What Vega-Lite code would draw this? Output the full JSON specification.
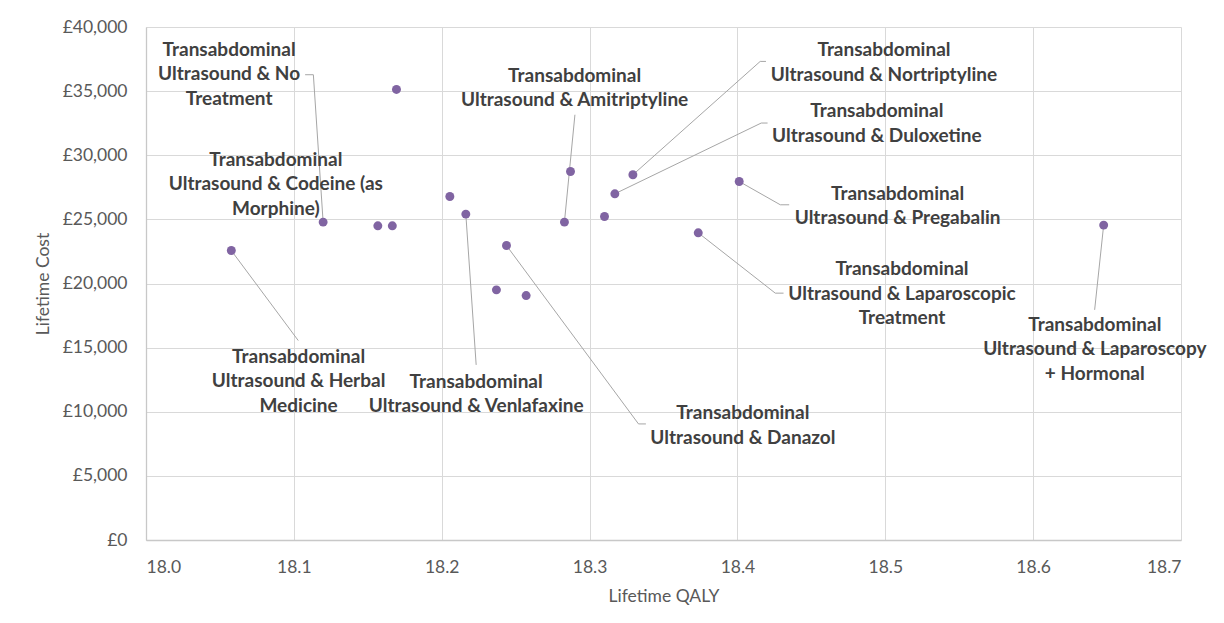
{
  "$schema": "https://vega.github.io/schema/vega-lite/v6.json",
  "autosize": {"type": "none"},
  "padding": {"left": 146, "top": 27, "right": 43, "bottom": 83},
  "width": 1035,
  "height": 513,
  "background": "white",
  "config": {"view": {"stroke": null}, "font": "Lato"},
  "datasets": {
    "points": [
      {"qaly": 18.1694, "cost": 35132},
      {"qaly": 18.1198, "cost": 24787},
      {"qaly": 18.1568, "cost": 24498},
      {"qaly": 18.1666, "cost": 24498},
      {"qaly": 18.0577, "cost": 22571},
      {"qaly": 18.2055, "cost": 26784},
      {"qaly": 18.2163, "cost": 25411},
      {"qaly": 18.2438, "cost": 22961},
      {"qaly": 18.2370, "cost": 19505},
      {"qaly": 18.2571, "cost": 19060},
      {"qaly": 18.2871, "cost": 28735},
      {"qaly": 18.2830, "cost": 24787},
      {"qaly": 18.3101, "cost": 25224},
      {"qaly": 18.3171, "cost": 26995},
      {"qaly": 18.3293, "cost": 28477},
      {"qaly": 18.4012, "cost": 27955},
      {"qaly": 18.3735, "cost": 23952},
      {"qaly": 18.6477, "cost": 24553}
    ],
    "labels": [
      {"qaly": 18.0562, "cost": 38230, "label": "Transabdominal\nUltrasound & No\nTreatment"},
      {"qaly": 18.0878, "cost": 29648, "label": "Transabdominal\nUltrasound & Codeine (as\nMorphine)"},
      {"qaly": 18.2899, "cost": 36201, "label": "Transabdominal\nUltrasound & Amitriptyline"},
      {"qaly": 18.4991, "cost": 38175, "label": "Transabdominal\nUltrasound & Nortriptyline"},
      {"qaly": 18.4943, "cost": 33416, "label": "Transabdominal\nUltrasound & Duloxetine"},
      {"qaly": 18.5083, "cost": 26995, "label": "Transabdominal\nUltrasound & Pregabalin"},
      {"qaly": 18.5113, "cost": 21120, "label": "Transabdominal\nUltrasound & Laparoscopic\nTreatment"},
      {"qaly": 18.6417, "cost": 16774, "label": "Transabdominal\nUltrasound & Laparoscopy\n+ Hormonal"},
      {"qaly": 18.1032, "cost": 14301, "label": "Transabdominal\nUltrasound & Herbal\nMedicine"},
      {"qaly": 18.2233, "cost": 12351, "label": "Transabdominal\nUltrasound & Venlafaxine"},
      {"qaly": 18.4037, "cost": 9885, "label": "Transabdominal\nUltrasound & Danazol"}
    ],
    "leaders": [
      {"id": "a", "k": 1, "qaly": 18.1076, "cost": 36279},
      {"id": "a", "k": 2, "qaly": 18.1132, "cost": 36279},
      {"id": "a", "k": 3, "qaly": 18.1198, "cost": 24787},
      {"id": "b", "k": 1, "qaly": 18.2901, "cost": 33159},
      {"id": "b", "k": 2, "qaly": 18.2830, "cost": 24787},
      {"id": "c", "k": 1, "qaly": 18.4193, "cost": 37317},
      {"id": "c", "k": 2, "qaly": 18.4154, "cost": 37317},
      {"id": "c", "k": 3, "qaly": 18.3293, "cost": 28477},
      {"id": "d", "k": 1, "qaly": 18.4204, "cost": 32511},
      {"id": "d", "k": 2, "qaly": 18.4161, "cost": 32511},
      {"id": "d", "k": 3, "qaly": 18.3171, "cost": 26995},
      {"id": "e", "k": 1, "qaly": 18.4012, "cost": 27955},
      {"id": "e", "k": 2, "qaly": 18.4290, "cost": 26137},
      {"id": "e", "k": 3, "qaly": 18.4350, "cost": 26137},
      {"id": "f", "k": 1, "qaly": 18.3735, "cost": 23952},
      {"id": "f", "k": 2, "qaly": 18.4256, "cost": 19248},
      {"id": "f", "k": 3, "qaly": 18.4312, "cost": 19248},
      {"id": "g", "k": 1, "qaly": 18.6477, "cost": 24553},
      {"id": "g", "k": 2, "qaly": 18.6416, "cost": 17945},
      {"id": "h", "k": 1, "qaly": 18.0577, "cost": 22571},
      {"id": "h", "k": 2, "qaly": 18.1030, "cost": 15549},
      {"id": "i", "k": 1, "qaly": 18.2163, "cost": 25411},
      {"id": "i", "k": 2, "qaly": 18.2233, "cost": 13654},
      {"id": "j", "k": 1, "qaly": 18.2438, "cost": 22961},
      {"id": "j", "k": 2, "qaly": 18.3331, "cost": 9050},
      {"id": "j", "k": 3, "qaly": 18.3381, "cost": 9050}
    ]
  },
  "encoding": {
    "x": {
      "field": "qaly", "type": "quantitative",
      "scale": {"domain": [18, 18.7], "nice": false, "zero": false},
      "axis": {
        "title": "Lifetime QALY",
        "values": [18, 18.1, 18.2, 18.3, 18.4, 18.5, 18.6, 18.7],
        "format": ".1f",
        "grid": true, "gridColor": "#d9d9d9", "gridWidth": 1,
        "domainColor": "#c8c8c8", "domainWidth": 1.3,
        "ticks": false,
        "labelFont": "Lato", "labelFontSize": 17.5, "labelColor": "#595959", "labelPadding": 18,
        "titleFont": "Lato", "titleFontSize": 17.5, "titleFontWeight": "normal", "titleColor": "#595959",
        "titleY": 56, "titleBaseline": "middle"
      }
    },
    "y": {
      "field": "cost", "type": "quantitative",
      "scale": {"domain": [0, 40000], "nice": false, "zero": true},
      "axis": {
        "title": "Lifetime Cost",
        "values": [0, 5000, 10000, 15000, 20000, 25000, 30000, 35000, 40000],
        "labelExpr": "'£' + format(datum.value, ',')",
        "grid": true, "gridColor": "#d9d9d9", "gridWidth": 1,
        "domainColor": "#c8c8c8", "domainWidth": 1.3,
        "ticks": false,
        "labelFont": "Lato", "labelFontSize": 17.5, "labelColor": "#595959", "labelPadding": 19,
        "titleFont": "Lato", "titleFontSize": 17.5, "titleFontWeight": "normal", "titleColor": "#595959",
        "titleX": -103, "titleBaseline": "middle"
      }
    }
  },
  "layer": [
    {
      "data": {"name": "leaders"},
      "mark": {"type": "line", "color": "#a6a6a6", "strokeWidth": 1},
      "encoding": {
        "detail": {"field": "id"},
        "order": {"field": "k", "type": "quantitative"}
      }
    },
    {
      "data": {"name": "points"},
      "mark": {"type": "circle", "color": "#8064A2", "size": 80, "opacity": 1}
    },
    {
      "data": {"name": "labels"},
      "mark": {
        "type": "text", "font": "Lato", "fontWeight": "bold", "fontSize": 19,
        "color": "#404040", "align": "center", "baseline": "middle",
        "lineBreak": "\n", "lineHeight": 24.5
      },
      "encoding": {"text": {"field": "label"}}
    }
  ]
}
